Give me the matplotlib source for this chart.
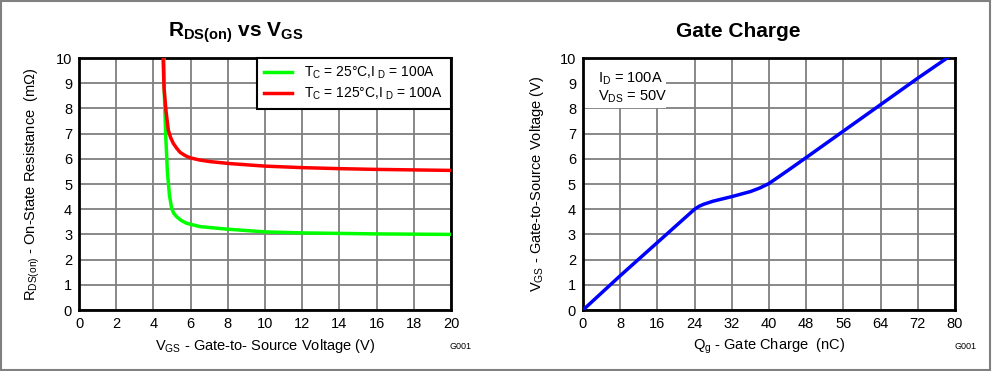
import matplotlib
matplotlib.use("Agg")
import matplotlib.pyplot as plt
from matplotlib.patches import Rectangle

plt.rcParams['font.family'] = ['Liberation Sans', 'DejaVu Sans']
plt.rcParams['mathtext.fontset'] = 'custom'
plt.rcParams['mathtext.rm'] = 'Liberation Sans'
plt.rcParams['mathtext.it'] = 'Liberation Sans'
plt.rcParams['mathtext.bf'] = 'Liberation Sans:bold'

# R_DS(on) vs V_GS
vgs_25 = [4.56, 4.58, 4.62, 4.66, 4.75, 4.86, 4.98, 5.1, 5.25, 5.5, 5.79, 6.5, 7.94, 10.0, 12.0, 14.0, 16.0, 18.0, 20.0]
rds_25 = [10.0, 8.8, 7.8, 6.94, 5.49, 4.56, 4.03, 3.83, 3.70, 3.55, 3.44, 3.31, 3.21, 3.1, 3.06, 3.04, 3.02, 3.01, 3.0]
vgs_125 = [4.52, 4.57, 4.68, 4.8, 4.92, 5.07, 5.25, 5.43, 5.7, 5.97, 6.5, 7.04, 8.12, 10.0, 12.0, 14.0, 16.0, 18.0, 20.0]
rds_125 = [10.0, 8.8, 7.87, 7.14, 6.85, 6.61, 6.42, 6.26, 6.13, 6.04, 5.95, 5.89, 5.81, 5.71, 5.65, 5.61, 5.58, 5.56, 5.54]
label_25 = r'T$_{\rm C}$ = 25°C,I$_{\rm \ D}$ = 100A'
label_125 = r'T$_{\rm C}$ = 125°C,I$_{\rm \ D}$ = 100A'

# Gate charge
qg = [0, 8, 16, 24, 25, 26, 28, 32, 36, 38, 40, 44, 48, 56, 64, 72, 78.3]
vgs_qg = [0, 1.36, 2.68, 4.0, 4.12, 4.2, 4.32, 4.5, 4.7, 4.84, 5.02, 5.53, 6.05, 7.1, 8.15, 9.2, 10.0]

x_ticks_l = list(range(0, 21, 2))
x_ticks_r = list(range(0, 81, 8))
y_ticks = list(range(0, 11))

fig = plt.figure(figsize=(9.93, 3.71), dpi=100)
fig.patches.append(Rectangle((0.001, 0.003), 0.996, 0.994, transform=fig.transFigure,
                             fill=False, edgecolor='#808080', linewidth=1.5))

ax1 = fig.add_axes([0.0796, 0.1644, 0.3746, 0.6792])
ax2 = fig.add_axes([0.5871, 0.1644, 0.3746, 0.6792])

for ax in (ax1, ax2):
    ax.set_ylim(0, 10)
    ax.set_yticks(y_ticks)
    ax.grid(True, color='#7f7f7f', linewidth=1.3)
    ax.set_axisbelow(True)
    ax.tick_params(length=0, pad=5, labelsize=10.5)
    for s in ax.spines.values():
        s.set_linewidth(2)
        s.set_color('black')

ax1.plot(vgs_25, rds_25, color='#00ff00', linewidth=2.5, label=label_25, zorder=3)
ax1.plot(vgs_125, rds_125, color='#ff0000', linewidth=2.5, label=label_125, zorder=3)
ax1.set_xlim(0, 20)
ax1.set_xticks(x_ticks_l)
ax1.set_title(r'R$_{\bf DS(on)}$ vs V$_{\bf GS}$', fontsize=15, fontweight='bold', pad=15, x=0.42)
ax1.set_xlabel(r'V$_{\rm GS}$ - Gate-to- Source Voltage (V)', fontsize=10.5, labelpad=4)
ax1.set_ylabel(r'R$_{\rm DS(on)}$ - On-State Resistance  (m$\Omega$)', fontsize=10.5, labelpad=10)
leg = ax1.legend(loc='upper left', bbox_to_anchor=(0.478, 1.0, 0.522, 0), mode='expand',
                 borderaxespad=0, fontsize=10, fancybox=False, framealpha=1,
                 handlelength=2.0, handletextpad=0.9, borderpad=0.5, labelspacing=0.3)
leg.get_frame().set_edgecolor('black')
leg.get_frame().set_linewidth(1.5)
fig.text(0.453, 0.058, 'G001', fontsize=6.5, ha='left')

ax2.plot(qg, vgs_qg, color='#0000ff', linewidth=2.5, zorder=3)
ax2.set_xlim(0, 80)
ax2.set_xticks(x_ticks_r)
ax2.set_title('Gate Charge', fontsize=15, fontweight='bold', pad=15, x=0.417)
ax2.set_xlabel(r'Q$_{\rm g}$ - Gate Charge  (nC)', fontsize=10.5, labelpad=4)
ax2.set_ylabel(r'V$_{\rm GS}$ - Gate-to-Source Voltage (V)', fontsize=10.5, labelpad=10)
ax2.add_patch(Rectangle((0, 0.8), 0.223, 0.2, transform=ax2.transAxes,
                        facecolor='white', edgecolor='none', zorder=2))
ax2.text(0.04, 0.95, 'I$_{\\rm D}$ = 100A\nV$_{\\rm DS}$ = 50V', transform=ax2.transAxes,
         fontsize=10.5, va='top', ha='left', zorder=4, linespacing=1.1)
fig.text(0.961, 0.058, 'G001', fontsize=6.5, ha='left')

fig.savefig('out.png', dpi=100)
